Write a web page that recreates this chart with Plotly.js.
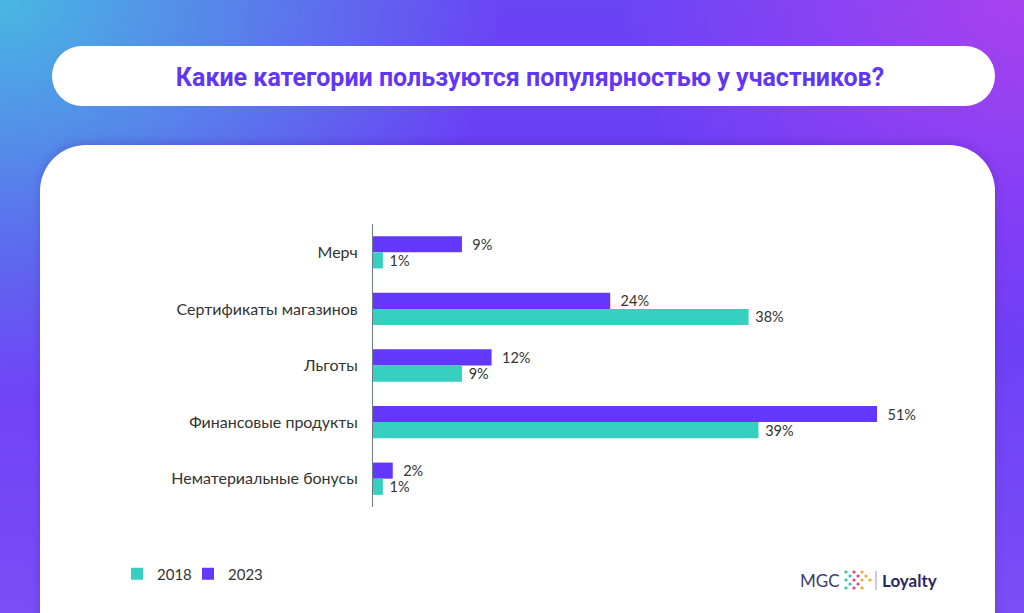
<!DOCTYPE html>
<html>
<head>
<meta charset="utf-8">
<script src="https://cdn.plot.ly/plotly-3.0.1.min.js"></script>
<style>
  html, body { margin:0; padding:0; width:1024px; height:613px; overflow:hidden; }
  body {
    background:
      radial-gradient(ellipse 500px 400px at 0% 0%, rgba(70,190,225,0.95) 0%, rgba(70,190,225,0) 100%),
      radial-gradient(ellipse 400px 350px at 100% 0%, rgba(175,65,240,0.9) 0%, rgba(175,65,240,0) 100%),
      linear-gradient(180deg, #6a45f4 0%, #6a3cf6 40%, #7a4df5 100%);
    position: relative;
    font-family: Lato, "Open Sans", sans-serif;
  }
  #pill { position:absolute; left:52px; top:46px; width:943px; height:60px; background:#fff; border-radius:30px; }
  #card { position:absolute; left:40px; top:145px; width:955px; height:520px; background:#fff; border-radius:46px; box-shadow: 0 -2px 8px rgba(60,20,140,0.25); }
  #chart { position:absolute; left:0; top:0; width:1024px; height:613px; }
</style>
</head>
<body>
<div id="pill"></div>
<div id="card"></div>
<div id="chart"></div>
<script>
const categories = ["Мерч", "Сертификаты магазинов", "Льготы", "Финансовые продукты", "Нематериальные бонусы"];
const values2023 = [9, 24, 12, 51, 2];
const values2018 = [1, 38, 9, 39, 1];
const seriesNames = ["2023", "2018"];
const titleText = "Какие категории пользуются популярностью у участников?";

const colPurple = "#6338fb";
const colTeal = "#36cfc0";
const tickFont = { family: "Lato, sans-serif", size: 16, color: "#333" };
const valueFont = { family: "Lato, sans-serif", size: 14.5, color: "#333" };

const traces = [
  {
    type: "bar", orientation: "h", name: seriesNames[0],
    y: categories, x: values2023,
    marker: { color: colPurple },
    texttemplate: "\u00a0\u00a0%{x}%", textposition: "outside", cliponaxis: false,
    constraintext: "none",
    textfont: valueFont,
    legend: "legend2", hoverinfo: "skip"
  },
  {
    type: "bar", orientation: "h", name: seriesNames[1],
    y: categories, x: values2018,
    marker: { color: colTeal },
    texttemplate: "\u00a0%{x}%", textposition: "outside", cliponaxis: false,
    constraintext: "none",
    textfont: valueFont,
    legend: "legend", hoverinfo: "skip"
  }
];

// logo dots (chevrons)
const dotColors = ["#2ec4a6", "#e8407a", "#f4a531"];
const shapes = [];
const dots = [
  [0,0,0],[4,4,0],[8,8,1],[4,-4,0],[0,-8,0],[0,8,0],
  [8,0,1],[12,4,1],[16,8,2],[12,-4,1],[8,-8,1],[16,0,2],[20,4,2],[16,-8,2],[24,0,2]
];
const plotTop = 224, plotBottom = 507, plotLeft = 373, plotRight = 966;
const pw = plotRight - plotLeft, ph = plotBottom - plotTop;
dots.forEach(d => {
  shapes.push({
    type: "circle", xref: "paper", yref: "paper",
    xsizemode: "pixel", ysizemode: "pixel",
    xanchor: (846 - plotLeft) / pw, yanchor: (plotBottom - 580) / ph,
    x0: d[0] - 1.6, x1: d[0] + 1.6, y0: d[1] - 1.6, y1: d[1] + 1.6,
    fillcolor: dotColors[d[2]], line: { width: 0 }
  });
});
shapes.push({
  type: "line", xref: "paper", yref: "paper",
  x0: (876 - plotLeft) / pw, x1: (876 - plotLeft) / pw,
  y0: (plotBottom - 571) / ph, y1: (plotBottom - 590) / ph,
  line: { color: "#9a9ab0", width: 1 }
});

const legendBase = {
  orientation: "h", xanchor: "left",
  y: (plotBottom - 574) / ph, yanchor: "middle",
  font: { family: "Lato, sans-serif", size: 15, color: "#333" },
  itemwidth: 30, bgcolor: "rgba(0,0,0,0)"
};

const layout = {
  width: 1024, height: 613,
  paper_bgcolor: "rgba(0,0,0,0)", plot_bgcolor: "rgba(0,0,0,0)",
  margin: { l: plotLeft, r: 1024 - plotRight, t: plotTop, b: 613 - plotBottom },
  barmode: "group", bargap: 0.43, bargroupgap: 0,
  title: {
    text: "<b>" + titleText + "</b>",
    font: { family: "Roboto, sans-serif", size: 25, color: "#6236f5" },
    x: 530 / 1024, xref: "container", xanchor: "center",
    y: 1 - 77 / 613, yref: "container", yanchor: "middle"
  },
  xaxis: {
    range: [0, 60], showgrid: false, zeroline: false, showticklabels: false,
    showline: false, fixedrange: true
  },
  yaxis: {
    autorange: "reversed", showgrid: false, zeroline: false,
    showline: true, linecolor: "#6d7c8a", linewidth: 1,
    ticks: "", ticklabelstandoff: 11,
    tickfont: tickFont,
    fixedrange: true
  },
  showlegend: true,
  legend: Object.assign({}, legendBase, { x: (117 - plotLeft) / pw }),
  legend2: Object.assign({}, legendBase, { x: (188 - plotLeft) / pw }),
  shapes: shapes,
  annotations: [
    {
      text: "MGC", xref: "paper", yref: "paper",
      x: (842 - plotLeft) / pw, xanchor: "right",
      y: (plotBottom - 580) / ph, yanchor: "middle", showarrow: false,
      font: { family: "Lato, sans-serif", size: 17, color: "#3b3a6e" }
    },
    {
      text: "<b>Loyalty</b>", xref: "paper", yref: "paper",
      x: (880 - plotLeft) / pw, xanchor: "left",
      y: (plotBottom - 580) / ph, yanchor: "middle", showarrow: false,
      font: { family: "Lato, sans-serif", size: 17, color: "#2b2763" }
    }
  ]
};

Plotly.newPlot("chart", traces, layout, { displayModeBar: false, staticPlot: true });
</script>
</body>
</html>
